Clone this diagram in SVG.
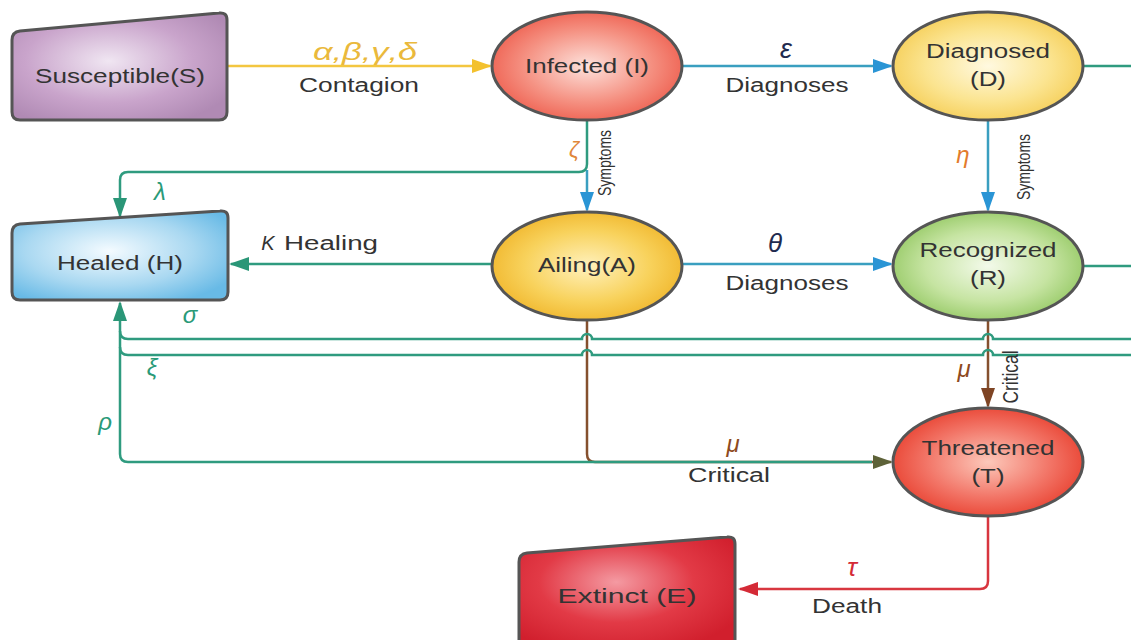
<svg xmlns="http://www.w3.org/2000/svg" width="1131" height="640" viewBox="0 0 1131 640">
  <defs>
    <style>
      .lbl { font-family: "Liberation Sans", Arial, sans-serif; fill: #333; font-size: 20px; text-anchor: middle; }
      .small { font-size: 14px; }
      .greek { font-family: "Liberation Sans", Arial, sans-serif; font-style: italic; font-size: 24px; text-anchor: middle; }
      .node { stroke: #555; stroke-width: 3; }
      .conn { fill: none; stroke-width: 2.5; }
      .teal { stroke: #2f9b7f; }
      .blue { stroke: #3a9fc0; }
      .yellow { stroke: #f3c640; }
      .brown { stroke: #85502e; }
      .red { stroke: #d8363f; }
    </style>
    <radialGradient id="gPurple" cx="45%" cy="45%" r="65%">
      <stop offset="0" stop-color="#f0e6f2"/><stop offset="0.6" stop-color="#c9a4cb"/><stop offset="1" stop-color="#b08ab4"/>
    </radialGradient>
    <radialGradient id="gBlue" cx="45%" cy="45%" r="65%">
      <stop offset="0" stop-color="#f4fbff"/><stop offset="0.6" stop-color="#a9d8f1"/><stop offset="1" stop-color="#68bae6"/>
    </radialGradient>
    <radialGradient id="gExtinct" cx="45%" cy="40%" r="65%">
      <stop offset="0" stop-color="#f49aa2"/><stop offset="0.55" stop-color="#e23a46"/><stop offset="1" stop-color="#d11f2d"/>
    </radialGradient>
    <radialGradient id="gInfected" cx="50%" cy="50%" r="55%">
      <stop offset="0" stop-color="#fde2dc"/><stop offset="0.6" stop-color="#f59283"/><stop offset="1" stop-color="#ee5e4e"/>
    </radialGradient>
    <radialGradient id="gDiag" cx="50%" cy="50%" r="55%">
      <stop offset="0" stop-color="#fff9e0"/><stop offset="0.6" stop-color="#fbe490"/><stop offset="1" stop-color="#f5cd55"/>
    </radialGradient>
    <radialGradient id="gAiling" cx="50%" cy="50%" r="55%">
      <stop offset="0" stop-color="#fff1bc"/><stop offset="0.6" stop-color="#f8d25c"/><stop offset="1" stop-color="#f0b52a"/>
    </radialGradient>
    <radialGradient id="gRecog" cx="50%" cy="50%" r="55%">
      <stop offset="0" stop-color="#f3faea"/><stop offset="0.6" stop-color="#c6e4a2"/><stop offset="1" stop-color="#94c863"/>
    </radialGradient>
    <radialGradient id="gThreat" cx="50%" cy="50%" r="55%">
      <stop offset="0" stop-color="#fcc8ba"/><stop offset="0.6" stop-color="#f27466"/><stop offset="1" stop-color="#e8402f"/>
    </radialGradient>
    <marker id="aYellow" markerUnits="userSpaceOnUse" viewBox="0 0 20 14" markerWidth="20" markerHeight="14" refX="18" refY="7" orient="auto"><path d="M0,0 L20,7 L0,14 Z" fill="#f3c12e"/></marker>
    <marker id="aBlue" markerUnits="userSpaceOnUse" viewBox="0 0 20 14" markerWidth="20" markerHeight="14" refX="18" refY="7" orient="auto"><path d="M0,0 L20,7 L0,14 Z" fill="#2a95d5"/></marker>
    <marker id="aTeal" markerUnits="userSpaceOnUse" viewBox="0 0 20 14" markerWidth="20" markerHeight="14" refX="18" refY="7" orient="auto"><path d="M0,0 L20,7 L0,14 Z" fill="#2a9677"/></marker>
    <marker id="aBrown" markerUnits="userSpaceOnUse" viewBox="0 0 20 14" markerWidth="20" markerHeight="14" refX="18" refY="7" orient="auto"><path d="M0,0 L20,7 L0,14 Z" fill="#7e4424"/></marker>
    <marker id="aOlive" markerUnits="userSpaceOnUse" viewBox="0 0 20 14" markerWidth="20" markerHeight="14" refX="18" refY="7" orient="auto"><path d="M0,0 L20,7 L0,14 Z" fill="#5d6238"/></marker>
    <marker id="aRed" markerUnits="userSpaceOnUse" viewBox="0 0 20 14" markerWidth="20" markerHeight="14" refX="18" refY="7" orient="auto"><path d="M0,0 L20,7 L0,14 Z" fill="#d42a36"/></marker>
  </defs>

  <rect width="1131" height="640" fill="#ffffff"/>

  <!-- connectors -->
  <g id="connectors">
    <!-- S -> I contagion -->
    <path class="conn yellow" d="M228,66 H490" marker-end="url(#aYellow)"/>
    <!-- I -> D, A -> R diagnoses -->
    <path class="conn blue" d="M682,66 H891" marker-end="url(#aBlue)"/>
    <path class="conn blue" d="M682,264 H891" marker-end="url(#aBlue)"/>
    <!-- symptoms -->
    <path class="conn blue" d="M587,170 V210" marker-end="url(#aBlue)"/>
    <path class="conn blue" d="M988,120 V210" marker-end="url(#aBlue)"/>
    <!-- I -> H (lambda) -->
    <path class="conn teal" d="M587,120 V164 Q587,172 579,172 H128 Q120,172 120,180 V216" marker-end="url(#aTeal)"/>
    <!-- A -> H healing -->
    <path class="conn teal" d="M492,264 H231" marker-end="url(#aTeal)"/>
    <!-- outgoing lines on the right of D and R -->
    <path class="conn teal" d="M1083,66 H1131"/>
    <path class="conn teal" d="M1083,266 H1131"/>
    <!-- A -> T critical -->
    <path class="conn brown" d="M587,320 V454 Q587,462 595,462 H891" marker-end="url(#aOlive)"/>
    <!-- R -> T critical -->
    <path class="conn brown" d="M988,320 V406" marker-end="url(#aBrown)"/>
    <!-- T -> E death -->
    <path class="conn red" d="M988,517 V581 Q988,589 980,589 H740" marker-end="url(#aRed)"/>
    <!-- returns to H (sigma, xi, rho) -->
    <path class="conn teal" d="M1131,339 H993 a5,5 0 0 0 -10,0 H592 a5,5 0 0 0 -10,0 H128 Q120,339 120,331"/>
    <path class="conn teal" d="M1131,355 H993 a5,5 0 0 0 -10,0 H592 a5,5 0 0 0 -10,0 H128 Q120,355 120,347"/>
    <path class="conn teal" d="M872,462 H128 Q120,462 120,454 V303" marker-end="url(#aTeal)"/>
  </g>

  <!-- connector labels -->
  <g id="edge-labels">
    <text class="greek" x="365" y="60" fill="#eab93c" textLength="104" lengthAdjust="spacingAndGlyphs">α,β,γ,δ</text>
    <text class="lbl" x="359" y="92" textLength="120" lengthAdjust="spacingAndGlyphs">Contagion</text>
    <text class="greek" x="786" y="58" fill="#1f2b4f" style="font-size:27px">ε</text>
    <text class="lbl" x="787" y="92" textLength="123" lengthAdjust="spacingAndGlyphs">Diagnoses</text>
    <text class="greek" x="775" y="252" fill="#1f2b4f" style="font-size:26px">θ</text>
    <text class="lbl" x="787" y="290" textLength="123" lengthAdjust="spacingAndGlyphs">Diagnoses</text>
    <text class="greek" x="574" y="157" fill="#e0873a" style="font-size:22px">ζ</text>
    <text class="greek" x="963" y="163" fill="#e37b2c" style="font-size:24px">η</text>
    <text class="lbl small" transform="translate(611,163) scale(1.25,1) rotate(-90)">Symptoms</text>
    <text class="lbl small" transform="translate(1030,167) scale(1.25,1) rotate(-90)">Symptoms</text>
    <text class="greek" x="160" y="200" fill="#2a9a78">λ</text>
    <text class="greek" x="268" y="250" fill="#333" style="font-size:20px">K</text>
    <text class="lbl" x="284" y="250" text-anchor="start" style="text-anchor:start" textLength="94" lengthAdjust="spacingAndGlyphs">Healing</text>
    <text class="greek" x="190" y="323" fill="#2a9a78">σ</text>
    <text class="greek" x="152" y="376" fill="#2a9a78">ξ</text>
    <text class="greek" x="105" y="430" fill="#2a9a78">ρ</text>
    <text class="greek" x="733" y="452" fill="#8e4a1e">μ</text>
    <text class="lbl" x="729" y="482" textLength="82" lengthAdjust="spacingAndGlyphs">Critical</text>
    <text class="greek" x="964" y="377" fill="#8e4a1e">μ</text>
    <text class="lbl" style="font-size:17px" transform="translate(1018,377) scale(1.3,1) rotate(-90)" textLength="53" lengthAdjust="spacingAndGlyphs">Critical</text>
    <text class="greek" x="852" y="576" fill="#d42a36" style="font-size:26px">τ</text>
    <text class="lbl" x="847" y="613" textLength="70" lengthAdjust="spacingAndGlyphs">Death</text>
  </g>

  <!-- nodes -->
  <g id="node-S">
    <path class="node" fill="url(#gPurple)" d="M12,40 Q12,32 20,31 L219,13 Q227,12 227,20 V112 Q227,120 219,120 H20 Q12,120 12,112 Z"/>
    <text class="lbl" x="120" y="83" textLength="170" lengthAdjust="spacingAndGlyphs">Susceptible(S)</text>
  </g>
  <g id="node-I">
    <ellipse class="node" fill="url(#gInfected)" cx="587" cy="66" rx="95" ry="54"/>
    <text class="lbl" x="587" y="73" textLength="124" lengthAdjust="spacingAndGlyphs">Infected (I)</text>
  </g>
  <g id="node-D">
    <ellipse class="node" fill="url(#gDiag)" cx="988" cy="66" rx="95" ry="54"/>
    <text class="lbl" x="988" y="58" textLength="124" lengthAdjust="spacingAndGlyphs">Diagnosed</text>
    <text class="lbl" x="988" y="86" textLength="36" lengthAdjust="spacingAndGlyphs">(D)</text>
  </g>
  <g id="node-H">
    <path class="node" fill="url(#gBlue)" d="M12,233 Q12,225 20,224 L220,211 Q228,210 228,218 V292 Q228,300 220,300 H20 Q12,300 12,292 Z"/>
    <text class="lbl" x="120" y="270" textLength="126" lengthAdjust="spacingAndGlyphs">Healed (H)</text>
  </g>
  <g id="node-A">
    <ellipse class="node" fill="url(#gAiling)" cx="587" cy="266" rx="95" ry="54"/>
    <text class="lbl" x="587" y="272" textLength="98" lengthAdjust="spacingAndGlyphs">Ailing(A)</text>
  </g>
  <g id="node-R">
    <ellipse class="node" fill="url(#gRecog)" cx="988" cy="266" rx="95" ry="54"/>
    <text class="lbl" x="988" y="257" textLength="137" lengthAdjust="spacingAndGlyphs">Recognized</text>
    <text class="lbl" x="988" y="285" textLength="36" lengthAdjust="spacingAndGlyphs">(R)</text>
  </g>
  <g id="node-T">
    <ellipse class="node" fill="url(#gThreat)" cx="988" cy="462" rx="95" ry="54"/>
    <text class="lbl" x="988" y="455" textLength="133" lengthAdjust="spacingAndGlyphs">Threatened</text>
    <text class="lbl" x="988" y="483" textLength="33" lengthAdjust="spacingAndGlyphs">(T)</text>
  </g>
  <g id="node-E">
    <path class="node" fill="url(#gExtinct)" d="M519,562 Q519,554 527,553 L727,537 Q735,536 735,544 V650 H519 Z"/>
    <text class="lbl" x="627" y="603" style="font-size:21px" textLength="139" lengthAdjust="spacingAndGlyphs">Extinct (E)</text>
  </g>
</svg>
